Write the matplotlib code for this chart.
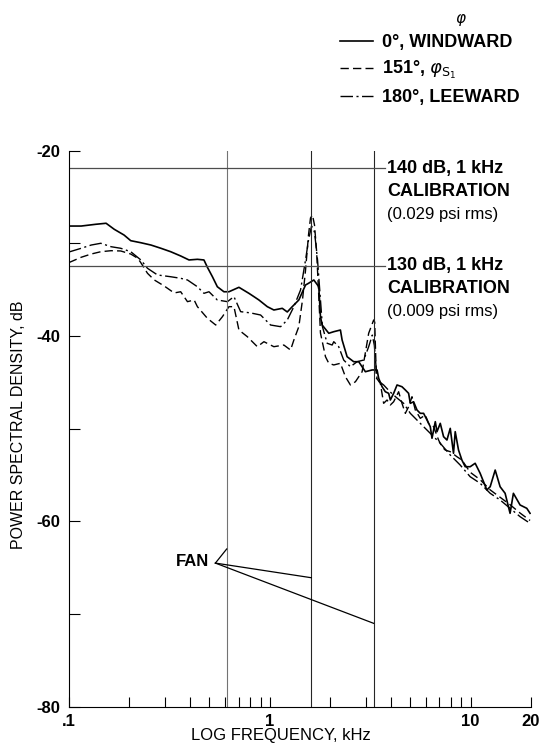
import numpy as np
import matplotlib
matplotlib.use('Agg')
import matplotlib.pyplot as plt
from matplotlib.ticker import FixedLocator, FixedFormatter, NullFormatter

plt.rcParams['font.family'] = ['Liberation Sans', 'DejaVu Sans']
plt.rcParams['axes.unicode_minus'] = False
plt.rcParams['mathtext.fontset'] = 'dejavusans'

# phi = 0 deg, windward
freq_0 = [0.100, 0.115, 0.136, 0.153, 0.168, 0.188, 0.203, 0.228, 0.256, 0.287,
          0.321, 0.360, 0.396, 0.436, 0.470, 0.489, 0.518, 0.548, 0.591, 0.626,
          0.702, 0.787, 0.834, 0.883, 0.972, 1.048, 1.154, 1.222, 1.294, 1.395,
          1.507, 1.559, 1.657, 1.754, 1.788, 1.823, 1.967, 2.083, 2.248, 2.292,
          2.427, 2.618, 2.773, 2.993, 3.231, 3.422, 3.486, 3.625, 3.762, 3.908,
          3.985, 4.139, 4.303, 4.554, 4.732, 4.913, 5.010, 5.203, 5.409, 5.617,
          5.834, 6.066, 6.300, 6.425, 6.672, 6.803, 7.064, 7.336, 7.626, 7.920,
          8.222, 8.385, 8.709, 9.052, 9.402, 9.954, 10.54, 11.16, 12.05, 12.52,
          13.26, 14.03, 14.86, 15.73, 16.34, 17.64, 19.05, 19.78]
psd_0 = [-28.13, -28.13, -27.94, -27.83, -28.48, -29.10, -29.71, -29.93, -30.18, -30.53,
         -30.90, -31.36, -31.79, -31.72, -31.79, -32.58, -33.60, -34.68, -35.22, -35.22,
         -34.74, -35.39, -35.75, -36.11, -36.83, -37.19, -37.01, -37.40, -36.83, -36.11,
         -34.49, -34.31, -33.95, -34.68, -37.91, -38.81, -39.70, -39.53, -39.35, -40.43,
         -42.23, -42.77, -42.77, -43.85, -43.66, -43.66, -44.56, -45.47, -46.01, -46.18,
         -46.90, -46.18, -45.28, -45.47, -45.82, -46.18, -47.26, -47.09, -47.98, -48.34,
         -48.34, -49.06, -49.78, -51.03, -49.24, -50.32, -49.42, -50.86, -51.22, -49.96,
         -52.65, -50.32, -52.30, -53.38, -54.10, -54.10, -53.73, -54.81, -56.61, -56.26,
         -54.46, -56.26, -56.97, -59.13, -56.97, -58.23, -58.59, -59.13]

# phi = 151 deg, phi_S1
freq_151 = [0.100, 0.115, 0.129, 0.144, 0.162, 0.181, 0.203, 0.220, 0.228, 0.246,
            0.266, 0.298, 0.334, 0.360, 0.389, 0.420, 0.436, 0.489, 0.538, 0.581,
            0.626, 0.663, 0.702, 0.773, 0.867, 0.935, 1.048, 1.175, 1.269, 1.318,
            1.395, 1.455, 1.507, 1.559, 1.595, 1.632, 1.670, 1.709, 1.748, 1.788,
            1.894, 1.967, 2.083, 2.248, 2.380, 2.521, 2.670, 2.883, 3.108, 3.291,
            3.330, 3.395, 3.553, 3.690, 3.837, 3.985, 4.139, 4.382, 4.554, 4.732,
            4.913, 5.108, 5.305, 5.617, 5.951, 6.176, 6.545, 6.928, 7.200, 7.478,
            7.920, 8.549, 9.052, 9.954, 11.16, 12.52, 14.03, 15.73, 17.64, 19.78]
psd_151 = [-32.07, -31.50, -31.15, -30.90, -30.79, -30.82, -31.15, -31.61, -32.09, -33.23,
           -33.95, -34.60, -35.35, -35.22, -36.29, -36.11, -36.83, -38.09, -38.81, -37.91,
           -36.83, -36.83, -39.35, -40.07, -41.15, -40.61, -41.15, -40.97, -41.51, -40.43,
           -38.99, -36.11, -32.87, -29.10, -27.26, -26.94, -28.02, -30.72, -35.03, -39.67,
           -42.23, -42.94, -43.12, -42.94, -44.39, -45.28, -44.93, -43.85, -39.70, -38.27,
           -38.50, -44.53, -45.10, -47.26, -46.90, -47.44, -47.09, -46.01, -47.26, -48.34,
           -47.63, -46.55, -47.98, -48.88, -48.52, -49.42, -49.78, -51.22, -51.94, -52.30,
           -52.48, -53.02, -53.38, -54.70, -55.50, -56.60, -57.40, -58.20, -59.10, -59.90]

# phi = 180 deg, leeward
freq_180 = [0.100, 0.115, 0.129, 0.144, 0.162, 0.181, 0.203, 0.228, 0.246, 0.276,
            0.321, 0.360, 0.389, 0.436, 0.470, 0.498, 0.548, 0.615, 0.663, 0.716,
            0.800, 0.900, 1.009, 1.132, 1.222, 1.318, 1.423, 1.507, 1.559, 1.614,
            1.670, 1.729, 1.788, 1.829, 1.931, 2.045, 2.083, 2.204, 2.334, 2.521,
            2.722, 2.936, 3.108, 3.240, 3.318, 3.422, 3.690, 3.985, 4.303, 4.640,
            5.010, 5.834, 7.064, 7.920, 8.877, 9.954, 11.16, 12.52, 14.03, 15.73,
            17.64, 19.78]
psd_180 = [-30.93, -30.53, -30.18, -29.99, -30.36, -30.53, -30.90, -31.79, -32.69, -33.41,
           -33.60, -33.77, -33.95, -34.68, -35.39, -35.22, -36.11, -36.29, -35.75, -37.37,
           -37.50, -37.73, -38.81, -38.99, -38.27, -36.83, -35.03, -31.79, -29.64, -28.13,
           -28.77, -31.79, -36.11, -38.99, -40.78, -40.97, -40.61, -41.15, -42.59, -43.31,
           -42.77, -42.59, -41.15, -39.90, -41.00, -44.74, -45.28, -46.05, -46.69, -47.26,
           -48.34, -49.78, -51.57, -52.84, -53.92, -55.18, -55.89, -56.97, -57.69, -58.59,
           -59.49, -60.21]

fan_freqs = [0.61, 1.61, 3.29]
fan_ends = [-62.98, -66.08, -71.0]
fan_apex = (0.536, -64.5)
cal_levels = [-21.9, -32.44]
cal_end = 3.73
cal_labels = [['140 dB, 1 kHz', 'CALIBRATION', '(0.029 psi rms)'],
              ['130 dB, 1 kHz', 'CALIBRATION', '(0.009 psi rms)']]
series_labels = ['0°, WINDWARD', r'151°, $\varphi_{\mathsf{S}_1}$', '180°, LEEWARD']

fig = plt.figure(figsize=(5.39, 7.52), dpi=100)
ax = fig.add_axes([0.128, 0.0602, 0.8572, 0.7394])

l0, = ax.plot(freq_0, psd_0, color='black', lw=1.2, ls='-')
l1, = ax.plot(freq_151, psd_151, color='black', lw=1.0, ls=(0, (6, 3)))
l2, = ax.plot(freq_180, psd_180, color='black', lw=1.0, ls=(0, (9, 2.5, 1.5, 2.5)))

# fan frequencies
for i, f in enumerate(fan_freqs):
    ax.plot([f, f], [-80, -20], color='0.45' if i == 0 else '0.15', lw=0.8)
    ax.plot([fan_apex[0], f], [fan_apex[1], fan_ends[i]], color='black', lw=0.9)
ax.text(0.50, -64.3, 'FAN', ha='right', va='center', fontsize=12, fontweight='bold')

# calibration levels
for lev, lab in zip(cal_levels, cal_labels):
    ax.plot([0.1, cal_end], [lev, lev], color='0.3', lw=0.9)
    for k, s in enumerate(lab):
        ax.annotate(s, xy=(3.85, lev), xytext=(0, -16.5 * k), textcoords='offset points',
                    ha='left', va='center', fontsize=13 if k < 2 else 12,
                    fontweight='bold' if k < 2 else 'normal', annotation_clip=False)

ax.set_xscale('log')
ax.set_xlim(0.1, 20)
ax.set_ylim(-80, -20)
ax.xaxis.set_major_locator(FixedLocator([0.1, 1, 10, 20]))
ax.xaxis.set_major_formatter(FixedFormatter(['.1', '1', '10', '20']))
ax.xaxis.set_minor_locator(FixedLocator([0.2, 0.3, 0.4, 0.5, 0.6, 0.7, 0.8, 0.9,
                                         2, 3, 4, 5, 6, 7, 8, 9]))
ax.xaxis.set_minor_formatter(NullFormatter())
ax.yaxis.set_major_locator(FixedLocator([-80, -60, -40, -20]))
ax.yaxis.set_major_formatter(FixedFormatter(['-80', '-60', '-40', '-20']))
ax.yaxis.set_minor_locator(FixedLocator([-70, -50, -30]))

ax.spines['top'].set_visible(False)
ax.spines['right'].set_visible(False)
ax.tick_params(axis='x', which='both', direction='in', length=7, width=0.8, pad=5,
               labelsize=12)
ax.tick_params(axis='y', which='both', direction='in', length=8, width=0.8, pad=6,
               labelsize=12)
for lab in ax.get_xticklabels() + ax.get_yticklabels():
    lab.set_fontweight('bold')

fig.text(0.521, 0.0213, 'LOG FREQUENCY, kHz', ha='center', va='center', fontsize=12)
fig.text(0.035, 0.435, 'POWER SPECTRAL DENSITY, dB', ha='center', va='center',
         rotation=90, fontsize=11.5)

fig.text(0.8546, 0.9734, r'$\varphi$', ha='center', va='center', fontsize=11)
ax.legend([l0, l1, l2], series_labels, loc='upper left', bbox_to_anchor=(0.631, 0.955),
          bbox_transform=fig.transFigure, frameon=False, borderpad=0, borderaxespad=0,
          handlelength=1.83, handletextpad=0.48, labelspacing=0.45,
          prop={'size': 13, 'weight': 'bold'})

fig.savefig('out.png', dpi=100)
